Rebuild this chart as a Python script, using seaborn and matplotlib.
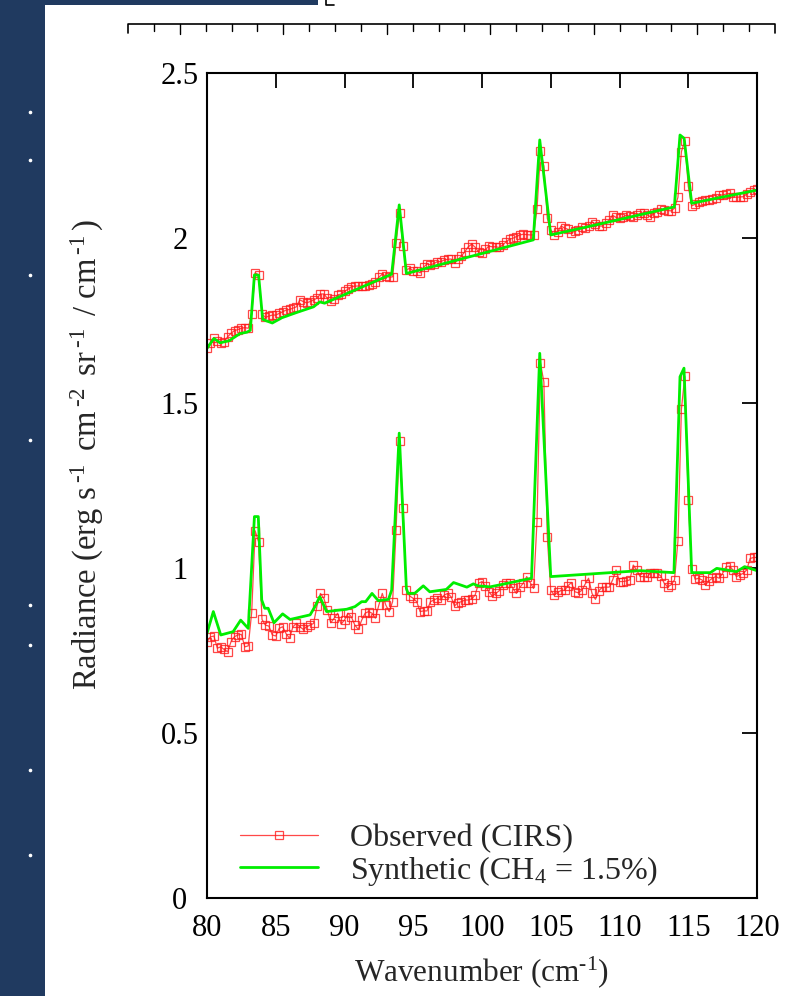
import numpy as np
import pandas as pd
import matplotlib
matplotlib.use("Agg")
import matplotlib.pyplot as plt
import seaborn as sns
from matplotlib.lines import Line2D
from matplotlib.patches import Rectangle

# ---------------- data ----------------
obs_wavenumber = np.arange(80.0, 120.001, 0.25)

obs_upper = [
    1.665, 1.680, 1.696, 1.688, 1.680, 1.685, 1.700, 1.711, 1.719, 1.722,
    1.726, 1.728, 1.726, 1.769, 1.894, 1.888, 1.769, 1.759, 1.763, 1.766,
    1.766, 1.771, 1.776, 1.781, 1.783, 1.787, 1.791, 1.812, 1.807, 1.803,
    1.807, 1.812, 1.817, 1.830, 1.830, 1.817, 1.810, 1.814, 1.827, 1.830,
    1.838, 1.844, 1.852, 1.854, 1.854, 1.854, 1.854, 1.857, 1.860, 1.867,
    1.881, 1.890, 1.884, 1.881, 1.882, 1.984, 2.075, 1.976, 1.903, 1.908,
    1.900, 1.900, 1.894, 1.911, 1.921, 1.918, 1.922, 1.928, 1.928, 1.933,
    1.935, 1.936, 1.923, 1.935, 1.945, 1.958, 1.973, 1.981, 1.972, 1.957,
    1.953, 1.965, 1.975, 1.973, 1.973, 1.971, 1.978, 1.988, 1.996, 1.999,
    2.004, 2.009, 2.011, 2.010, 2.009, 2.009, 2.087, 2.262, 2.218, 2.059,
    2.024, 2.009, 2.019, 2.036, 2.030, 2.026, 2.016, 2.020, 2.024, 2.034,
    2.029, 2.036, 2.049, 2.042, 2.036, 2.036, 2.045, 2.054, 2.069, 2.062,
    2.059, 2.064, 2.069, 2.066, 2.064, 2.070, 2.074, 2.076, 2.070, 2.064,
    2.074, 2.080, 2.087, 2.085, 2.083, 2.082, 2.090, 2.123, 2.261, 2.295,
    2.157, 2.097, 2.102, 2.110, 2.113, 2.115, 2.115, 2.117, 2.120, 2.130,
    2.130, 2.133, 2.135, 2.125, 2.123, 2.124, 2.125, 2.133, 2.140, 2.145,
    2.147,
]

obs_lower = [
    0.776, 0.790, 0.793, 0.756, 0.760, 0.752, 0.745, 0.776, 0.791, 0.796,
    0.798, 0.760, 0.763, 0.864, 1.112, 1.079, 0.843, 0.826, 0.823, 0.796,
    0.793, 0.816, 0.821, 0.800, 0.786, 0.821, 0.831, 0.821, 0.813, 0.821,
    0.826, 0.831, 0.884, 0.922, 0.907, 0.872, 0.833, 0.847, 0.862, 0.829,
    0.841, 0.862, 0.851, 0.826, 0.813, 0.841, 0.862, 0.867, 0.862, 0.847,
    0.887, 0.922, 0.887, 0.867, 0.897, 1.113, 1.385, 1.180, 0.932, 0.914,
    0.907, 0.897, 0.867, 0.869, 0.869, 0.897, 0.902, 0.907, 0.902, 0.917,
    0.922, 0.912, 0.884, 0.894, 0.897, 0.902, 0.902, 0.905, 0.917, 0.953,
    0.958, 0.945, 0.927, 0.914, 0.922, 0.930, 0.948, 0.955, 0.955, 0.937,
    0.922, 0.940, 0.953, 0.973, 0.955, 0.937, 1.140, 1.621, 1.563, 1.092,
    0.931, 0.917, 0.925, 0.931, 0.931, 0.945, 0.955, 0.927, 0.924, 0.931,
    0.950, 0.968, 0.922, 0.904, 0.930, 0.941, 0.941, 0.941, 0.963, 0.993,
    0.958, 0.958, 0.960, 0.963, 1.008, 0.993, 0.973, 0.973, 0.971, 0.985,
    0.985, 0.983, 0.975, 0.953, 0.942, 0.948, 0.963, 1.081, 1.480, 1.580,
    1.205, 0.997, 0.965, 0.968, 0.963, 0.948, 0.960, 0.968, 0.973, 0.968,
    0.983, 1.003, 1.005, 0.993, 0.973, 0.978, 0.983, 0.993, 1.028, 1.031,
    1.031,
]

syn_upper_wn = [80.0, 80.5, 80.95, 81.6, 82.4, 82.9, 83.15, 83.45, 83.75, 84.05,
                84.35, 84.75, 85.45, 86.6, 87.75, 88.2, 88.55, 93.43, 93.98, 94.5,
                103.73, 104.2, 105.0, 107.6, 113.99, 114.4, 114.7, 115.25, 120.0]
syn_upper = [1.665, 1.695, 1.682, 1.688, 1.710, 1.714, 1.720, 1.888, 1.887, 1.753,
             1.748, 1.742, 1.758, 1.775, 1.791, 1.806, 1.802, 1.890, 2.100, 1.892,
             1.994, 2.297, 2.009, 2.033, 2.094, 2.312, 2.302, 2.105, 2.145]

syn_lower_wn = [80.0, 80.46, 81.0, 81.9, 82.45, 83.0, 83.45, 83.73, 83.98, 84.2,
                84.45, 84.87, 85.5, 86.04, 87.5, 87.85, 88.2, 88.7, 90.16, 90.76,
                91.25, 91.54, 92.0, 92.46, 93.2, 93.43, 93.98, 94.5, 94.62, 95.1,
                95.73, 96.2, 97.4, 97.93, 98.9, 99.37, 99.7, 100.6, 101.3, 103.6,
                104.2, 105.0, 111.5, 113.96, 114.4, 114.69, 115.25, 116.6, 117.07, 117.8,
                118.5, 119.1, 120.0]
syn_lower = [0.801, 0.867, 0.796, 0.806, 0.841, 0.816, 1.155, 1.155, 0.902, 0.877,
             0.877, 0.833, 0.860, 0.843, 0.857, 0.882, 0.912, 0.867, 0.874, 0.882,
             0.897, 0.897, 0.922, 0.900, 0.904, 0.932, 1.408, 0.937, 0.922, 0.922,
             0.945, 0.927, 0.934, 0.955, 0.941, 0.951, 0.945, 0.942, 0.948, 0.968,
             1.650, 0.973, 0.991, 0.985, 1.579, 1.605, 0.985, 0.985, 0.998, 0.993,
             0.988, 1.003, 0.991]

x_ticks = [80, 85, 90, 95, 100, 105, 110, 115, 120]
y_ticks = [0, 0.5, 1, 1.5, 2, 2.5]
y_tick_labels = ["0", "0.5", "1", "1.5", "2", "2.5"]
legend_labels = ["Observed (CIRS)", r"Synthetic (CH$_4$ = 1.5%)"]

# ---------------- style ----------------
sns.set_theme(style="white")
plt.rcParams["font.family"] = ["Liberation Serif", "DejaVu Serif"]
plt.rcParams["mathtext.fontset"] = "custom"
plt.rcParams["mathtext.rm"] = "Liberation Serif"
plt.rcParams["mathtext.it"] = "Liberation Serif:italic"
plt.rcParams["mathtext.bf"] = "Liberation Serif:bold"

W, H = 794, 996
fig = plt.figure(figsize=(W / 100, H / 100), dpi=100)
fig.patch.set_facecolor("white")


def fx(px):
    return px / W


def fy(py):
    return 1 - py / H


ax = fig.add_axes([fx(207), fy(897.5), (757 - 207) / W, (897.5 - 73) / H])

obs_df = pd.DataFrame({"wn": obs_wavenumber, "upper": obs_upper, "lower": obs_lower})
syn_up_df = pd.DataFrame({"wn": syn_upper_wn, "rad": syn_upper})
syn_lo_df = pd.DataFrame({"wn": syn_lower_wn, "rad": syn_lower})

red = "#ff1a1a"
green = "#00ee00"
obs_kw = dict(color=red, lw=0.9, marker="s", markersize=5.8,
              markerfacecolor="none", markeredgecolor=red, markeredgewidth=0.9,
              alpha=0.8, sort=False, estimator=None)

sns.lineplot(data=obs_df, x="wn", y="upper", ax=ax, label=legend_labels[0], **obs_kw)
sns.lineplot(data=obs_df, x="wn", y="lower", ax=ax, label="_nolegend_", **obs_kw)
sns.lineplot(data=syn_up_df, x="wn", y="rad", ax=ax, color=green, lw=2.0,
             sort=False, estimator=None, label=legend_labels[1])
sns.lineplot(data=syn_lo_df, x="wn", y="rad", ax=ax, color=green, lw=2.0,
             sort=False, estimator=None, label="_nolegend_")

ax.set_xlim(80, 120)
ax.set_ylim(0, 2.5)
ax.set_xticks(x_ticks)
ax.set_xticklabels([str(t) for t in x_ticks])
ax.set_yticks(y_ticks)
ax.set_yticklabels(y_tick_labels)
ax.tick_params(direction="in", length=11, width=1.3, colors="black",
               labelsize=22, top=True, right=True,
               labeltop=False, labelright=False)
ax.tick_params(axis="x", pad=12)
ax.tick_params(axis="y", pad=19.5)
for lab in ax.get_yticklabels():
    lab.set_horizontalalignment("center")
for s in ax.spines.values():
    s.set_visible(True)
    s.set_color("black")
    s.set_linewidth(1.5)

ax.set_xlabel(r"Wavenumber (cm$^{\text{-1}}$)", fontsize=22.5, labelpad=8)
ax.set_ylabel(r"Radiance (erg s$\,^{\text{-1}}\,$ cm$\,^{\text{-2}}\,$ sr$\,^{\text{-1}}\,$"
              r" / cm$\,^{\text{-1}}\,$)",
              fontsize=23.5)
ax.yaxis.set_label_coords(-0.183, 0.537)

h_obs = ax.lines[0]
h_syn = ax.lines[2]
ax.legend(handles=[h_obs, h_syn], labels=legend_labels, loc="lower left",
          bbox_to_anchor=(0.06, 0.012), frameon=False, fontsize=23,
          handlelength=2.45, handletextpad=1.0, labelspacing=0.0,
          borderpad=0.0, borderaxespad=0.0, numpoints=1)

# ---------------- page decorations around the chart ----------------
navy = "#203a60"
fig.add_artist(Rectangle((0, 0), fx(45), 1, transform=fig.transFigure,
                         facecolor=navy, edgecolor="none"))
fig.add_artist(Rectangle((0, fy(5)), fx(318), 5 / H, transform=fig.transFigure,
                         facecolor=navy, edgecolor="none"))
# corner of a neighbouring frame at the top
fig.add_artist(Line2D([fx(326), fx(326), fx(334)], [fy(0), fy(5), fy(5)],
                      transform=fig.transFigure, color="black", lw=1.2))
# cut-off axis of the panel above
top_y = 24
fig.add_artist(Line2D([fx(128), fx(128), fx(775), fx(775)],
                      [fy(top_y + 9), fy(top_y), fy(top_y), fy(top_y + 9)],
                      transform=fig.transFigure, color="black", lw=1.2))
for i in range(1, 25):
    px = 128 + i * (775 - 128) / 25
    ln = 10 if i % 4 == 2 else 7
    fig.add_artist(Line2D([fx(px), fx(px)], [fy(top_y), fy(top_y + ln)],
                          transform=fig.transFigure, color="black", lw=1.0))
# small white specks in the side band
for py in [112, 160, 275, 440, 605, 645, 770, 855]:
    fig.add_artist(Line2D([fx(30)], [fy(py)], transform=fig.transFigure,
                          marker="o", markersize=1.6, color="white", lw=0))

fig.savefig("out.png", dpi=100, facecolor="white")
